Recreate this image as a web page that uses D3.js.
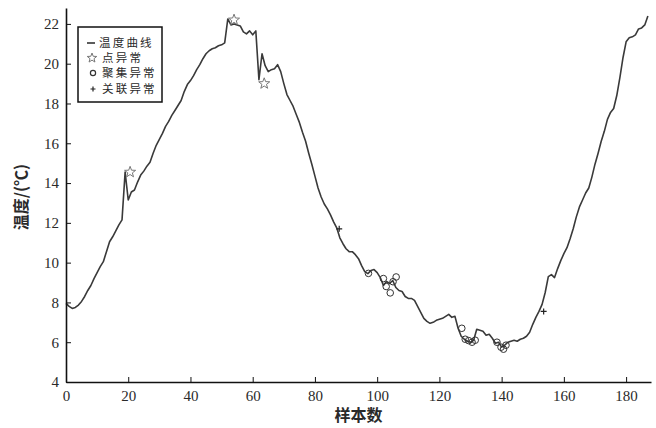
<!DOCTYPE html>
<html>
<head>
<meta charset="utf-8">
<script src="https://cdn.jsdelivr.net/npm/d3@7/dist/d3.min.js"></script>
<style>
  body { margin: 0; background: #fff; }
</style>
</head>
<body>
<script>
// temperature per sample, index = sample number
const temps = [
  7.95, 7.8, 7.7, 7.75, 7.87, 8.05, 8.3, 8.6, 8.85, 9.2,
  9.5, 9.8, 10.05, 10.55, 11.05, 11.3, 11.6, 11.9, 12.15, 14.55,
  13.15, 13.55, 13.65, 14.05, 14.4, 14.6, 14.85, 15.05, 15.5, 15.9,
  16.2, 16.5, 16.85, 17.1, 17.4, 17.65, 17.9, 18.15, 18.6, 18.95,
  19.15, 19.4, 19.7, 19.95, 20.25, 20.5, 20.65, 20.75, 20.8, 20.9,
  20.95, 21.05, 22.25, 21.95, 22.0, 21.95, 21.9, 21.6, 21.5, 21.65,
  21.45, 21.65, 19.2, 20.5, 19.9, 19.6, 19.7, 19.75, 19.95, 19.6,
  19.0, 18.45, 18.15, 17.85, 17.45, 17.05, 16.55, 16.1, 15.5, 14.95,
  14.35, 13.75, 13.3, 12.95, 12.7, 12.4, 12.05, 11.75, 11.25, 10.95,
  10.7, 10.55, 10.55, 10.4, 10.2, 9.85, 9.55, 9.45, 9.6, 9.65,
  9.5, 9.25, 8.85, 9.05, 8.95, 9.1, 8.75, 8.6, 8.55, 8.3,
  8.2, 8.2, 8.1, 7.8, 7.5, 7.2, 7.05, 6.95, 7.0, 7.1,
  7.15, 7.2, 7.3, 7.4, 7.25, 7.3, 6.7, 6.3, 6.15, 6.05,
  6.0, 6.1, 6.65, 6.6, 6.55, 6.35, 6.4, 6.2, 5.95, 6.0,
  5.75, 5.85, 6.0, 6.05, 6.1, 6.05, 6.15, 6.2, 6.3, 6.5,
  6.9, 7.25, 7.55, 7.9, 8.5, 9.3, 9.4, 9.25, 9.7, 10.1,
  10.45, 10.75, 11.2, 11.7, 12.3, 12.8, 13.15, 13.5, 13.75, 14.3,
  14.95, 15.5, 16.1, 16.6, 17.2, 17.55, 17.75, 18.4, 19.3, 20.3,
  21.1, 21.3, 21.35, 21.45, 21.75, 21.8, 21.95, 22.4
];

// anomalies [sample, temp]
const pointAnom = [[20.6, 14.55], [54, 22.2], [63.7, 19.0]];
const clusterAnom = [
  [97.2, 9.46], [102, 9.2], [102.9, 8.8], [104.2, 8.48], [105.1, 9.04], [106.1, 9.28],
  [127.2, 6.7], [128.3, 6.15], [129.4, 6.08], [130.5, 6.0], [131.5, 6.1],
  [138.5, 6.0], [139.8, 5.75], [140.6, 5.65], [141.4, 5.85]
];
const linkAnom = [[87.8, 11.7], [153.5, 7.55]];

const xTicks = [0, 20, 40, 60, 80, 100, 120, 140, 160, 180];
const yTicks = [4, 6, 8, 10, 12, 14, 16, 18, 20, 22];
const legendLabels = ["温度曲线", "点异常", "聚集异常", "关联异常"];

const W = 656, H = 428;
const margin = {top: 8, right: 5, bottom: 46, left: 66};
const width = W - margin.left - margin.right,
      height = H - margin.top - margin.bottom;

const svg = d3.select("body").append("svg")
  .attr("width", W).attr("height", H);
const g = svg.append("g")
  .attr("transform", "translate(" + margin.left + "," + margin.top + ")");

const x = d3.scaleLinear().domain([0, 188]).range([0, width]);
const y = d3.scaleLinear().domain([4, 22.8]).range([height, 0]);

const numFont = "'Liberation Serif', 'DejaVu Serif', serif";
const cjkFont = "'Noto Sans CJK SC', 'Noto Sans', sans-serif";
const ink = "#2a2a2a";

// line
const line = d3.line().x((d, i) => x(i)).y(d => y(d));
g.append("path")
  .datum(temps)
  .attr("fill", "none")
  .attr("stroke", "#3a3a3a")
  .attr("stroke-width", 1.6)
  .attr("stroke-linejoin", "round")
  .attr("d", line);

// star path
function starPath(r, ri) {
  let p = "";
  for (let k = 0; k < 10; k++) {
    const a = -Math.PI / 2 + k * Math.PI / 5;
    const rr = k % 2 ? ri : r;
    p += (k ? "L" : "M") + (rr * Math.cos(a)).toFixed(2) + "," + (rr * Math.sin(a)).toFixed(2);
  }
  return p + "Z";
}
const star = starPath(5.8, 2.4);

g.selectAll(".star").data(pointAnom).enter().append("path")
  .attr("d", star)
  .attr("transform", d => "translate(" + x(d[0]) + "," + y(d[1]) + ")")
  .attr("fill", "none").attr("stroke", "#777").attr("stroke-width", 1);

g.selectAll(".clu").data(clusterAnom).enter().append("circle")
  .attr("cx", d => x(d[0])).attr("cy", d => y(d[1])).attr("r", 3.3)
  .attr("fill", "none").attr("stroke", "#333").attr("stroke-width", 1);

const plus = "M-3,0H3M0,-3V3";
g.selectAll(".lnk").data(linkAnom).enter().append("path")
  .attr("d", plus)
  .attr("transform", d => "translate(" + x(d[0]) + "," + y(d[1]) + ")")
  .attr("stroke", "#222").attr("stroke-width", 1.2);

// axes
const xAxis = g.append("g")
  .attr("transform", "translate(0," + height + ")")
  .call(d3.axisBottom(x).tickValues(xTicks).tickSizeInner(-5).tickSizeOuter(0).tickPadding(8));
const yAxis = g.append("g")
  .call(d3.axisLeft(y).tickValues(yTicks).tickSizeInner(-5).tickSizeOuter(0).tickPadding(7));

[xAxis, yAxis].forEach(a => {
  a.select(".domain").attr("stroke", "#111").attr("stroke-width", 1.6);
  a.selectAll(".tick line").attr("stroke", "#111").attr("stroke-width", 1);
  a.selectAll(".tick text")
    .attr("fill", ink)
    .style("font-family", numFont)
    .style("font-size", "15px");
});

// axis titles
svg.append("text")
  .attr("x", margin.left + x(94)).attr("y", 421)
  .attr("text-anchor", "middle")
  .attr("fill", ink)
  .style("font-family", cjkFont).style("font-size", "16px").style("font-weight", "bold")
  .text("样本数");
svg.append("text")
  .attr("transform", "translate(27,197) rotate(-90)")
  .attr("text-anchor", "middle")
  .attr("fill", ink)
  .style("font-family", cjkFont).style("font-size", "16px").style("font-weight", "bold")
  .text("温度/(℃)");

// legend
const leg = svg.append("g").attr("transform", "translate(78,27)");
leg.append("rect")
  .attr("width", 84).attr("height", 75)
  .attr("fill", "#fff").attr("stroke", "#111").attr("stroke-width", 1.5);
const rowY = [16, 31, 46, 62];
leg.append("line").attr("x1", 9).attr("x2", 17).attr("y1", rowY[0]).attr("y2", rowY[0])
  .attr("stroke", "#333").attr("stroke-width", 1.6);
leg.append("path").attr("d", starPath(5, 2.1))
  .attr("transform", "translate(14," + rowY[1] + ")")
  .attr("fill", "none").attr("stroke", "#777").attr("stroke-width", 1);
leg.append("circle").attr("cx", 15).attr("cy", rowY[2]).attr("r", 2.6)
  .attr("fill", "none").attr("stroke", "#333").attr("stroke-width", 1.2);
leg.append("path").attr("d", "M-2.5,0H2.5M0,-2.5V2.5")
  .attr("transform", "translate(15," + rowY[3] + ")")
  .attr("stroke", "#222").attr("stroke-width", 1.2);
leg.selectAll(".lt").data(legendLabels).enter().append("text")
  .attr("x", (d, i) => i === 0 ? 21 : 24).attr("y", (d, i) => rowY[i] + 4)
  .attr("fill", ink)
  .style("font-family", cjkFont).style("font-size", "11.5px")
  .style("letter-spacing", "2.2px")
  .text(d => d);
</script>
</body>
</html>
